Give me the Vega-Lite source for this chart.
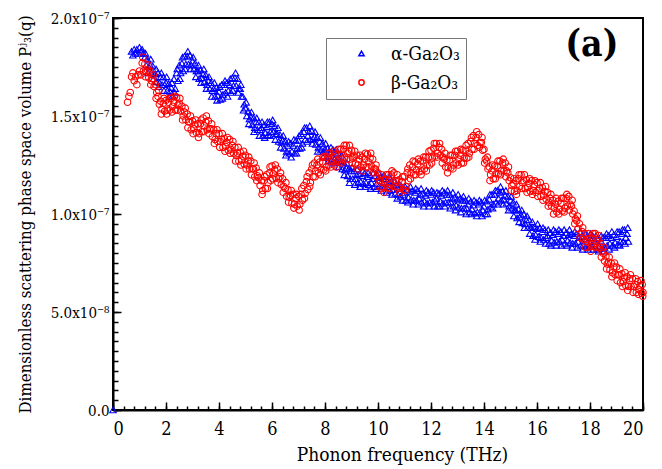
{
"$schema": "https://vega.github.io/schema/vega-lite/v6.json",
"width": 530, "height": 392,
"autosize": {"type": "none"},
"padding": {"left": 113, "top": 18, "right": 19, "bottom": 59},
"background": "white",
"config": {
 "font": "DejaVu Serif Condensed, DejaVu Serif",
 "view": {"stroke": "black", "strokeWidth": 2},
 "axis": {"labelFont": "DejaVu Serif Condensed, DejaVu Serif", "titleFont": "DejaVu Serif Condensed, DejaVu Serif", "labelColor": "black", "titleColor": "black", "grid": false, "titleFontWeight": "normal"},
 "legend": {"labelFont": "DejaVu Serif Condensed, DejaVu Serif"},
 "text": {"font": "DejaVu Serif Condensed, DejaVu Serif"}
},
"data": {"values": [
{"s":"α-Ga₂O₃","f":0,"P":0},
{"s":"α-Ga₂O₃","f":0.7,"P":1.83e-7},{"s":"α-Ga₂O₃","f":0.75,"P":1.81e-7},
{"s":"α-Ga₂O₃","f":0.8,"P":1.84e-7},{"s":"α-Ga₂O₃","f":0.85,"P":1.82e-7},
{"s":"α-Ga₂O₃","f":0.9,"P":1.84e-7},{"s":"α-Ga₂O₃","f":0.95,"P":1.82e-7},
{"s":"α-Ga₂O₃","f":1.0,"P":1.85e-7},{"s":"α-Ga₂O₃","f":1.05,"P":1.83e-7},
{"s":"α-Ga₂O₃","f":1.1,"P":1.84e-7},{"s":"α-Ga₂O₃","f":1.15,"P":1.82e-7},
{"s":"α-Ga₂O₃","f":1.2,"P":1.80e-7},{"s":"α-Ga₂O₃","f":1.25,"P":1.76e-7},
{"s":"α-Ga₂O₃","f":1.3,"P":1.79e-7},{"s":"α-Ga₂O₃","f":1.35,"P":1.75e-7},
{"s":"α-Ga₂O₃","f":1.4,"P":1.76e-7},{"s":"α-Ga₂O₃","f":1.45,"P":1.72e-7},
{"s":"α-Ga₂O₃","f":1.5,"P":1.755e-7},{"s":"α-Ga₂O₃","f":1.55,"P":1.715e-7},
{"s":"α-Ga₂O₃","f":1.6,"P":1.715e-7},{"s":"α-Ga₂O₃","f":1.65,"P":1.675e-7},
{"s":"α-Ga₂O₃","f":1.7,"P":1.72e-7},{"s":"α-Ga₂O₃","f":1.75,"P":1.67e-7},
{"s":"α-Ga₂O₃","f":1.8,"P":1.70e-7},{"s":"α-Ga₂O₃","f":1.85,"P":1.66e-7},
{"s":"α-Ga₂O₃","f":1.9,"P":1.70e-7},{"s":"α-Ga₂O₃","f":1.95,"P":1.66e-7},
{"s":"α-Ga₂O₃","f":2.0,"P":1.67e-7},{"s":"α-Ga₂O₃","f":2.05,"P":1.63e-7},
{"s":"α-Ga₂O₃","f":2.1,"P":1.665e-7},{"s":"α-Ga₂O₃","f":2.15,"P":1.625e-7},
{"s":"α-Ga₂O₃","f":2.2,"P":1.645e-7},{"s":"α-Ga₂O₃","f":2.25,"P":1.605e-7},
{"s":"α-Ga₂O₃","f":2.3,"P":1.69e-7},{"s":"α-Ga₂O₃","f":2.35,"P":1.64e-7},
{"s":"α-Ga₂O₃","f":2.4,"P":1.72e-7},{"s":"α-Ga₂O₃","f":2.45,"P":1.68e-7},
{"s":"α-Ga₂O₃","f":2.5,"P":1.76e-7},{"s":"α-Ga₂O₃","f":2.55,"P":1.72e-7},
{"s":"α-Ga₂O₃","f":2.6,"P":1.77e-7},{"s":"α-Ga₂O₃","f":2.65,"P":1.73e-7},
{"s":"α-Ga₂O₃","f":2.7,"P":1.805e-7},{"s":"α-Ga₂O₃","f":2.75,"P":1.765e-7},
{"s":"α-Ga₂O₃","f":2.8,"P":1.805e-7},{"s":"α-Ga₂O₃","f":2.85,"P":1.765e-7},
{"s":"α-Ga₂O₃","f":2.9,"P":1.81e-7},{"s":"α-Ga₂O₃","f":2.95,"P":1.76e-7},
{"s":"α-Ga₂O₃","f":3.0,"P":1.78e-7},{"s":"α-Ga₂O₃","f":3.05,"P":1.74e-7},
{"s":"α-Ga₂O₃","f":3.1,"P":1.77e-7},{"s":"α-Ga₂O₃","f":3.15,"P":1.73e-7},
{"s":"α-Ga₂O₃","f":3.2,"P":1.73e-7},{"s":"α-Ga₂O₃","f":3.25,"P":1.69e-7},
{"s":"α-Ga₂O₃","f":3.3,"P":1.735e-7},{"s":"α-Ga₂O₃","f":3.35,"P":1.695e-7},
{"s":"α-Ga₂O₃","f":3.4,"P":1.715e-7},{"s":"α-Ga₂O₃","f":3.45,"P":1.675e-7},
{"s":"α-Ga₂O₃","f":3.5,"P":1.71e-7},{"s":"α-Ga₂O₃","f":3.55,"P":1.66e-7},
{"s":"α-Ga₂O₃","f":3.6,"P":1.68e-7},{"s":"α-Ga₂O₃","f":3.65,"P":1.64e-7},
{"s":"α-Ga₂O₃","f":3.7,"P":1.67e-7},{"s":"α-Ga₂O₃","f":3.75,"P":1.63e-7},
{"s":"α-Ga₂O₃","f":3.8,"P":1.64e-7},{"s":"α-Ga₂O₃","f":3.85,"P":1.60e-7},
{"s":"α-Ga₂O₃","f":3.9,"P":1.645e-7},{"s":"α-Ga₂O₃","f":3.95,"P":1.605e-7},
{"s":"α-Ga₂O₃","f":4.0,"P":1.625e-7},{"s":"α-Ga₂O₃","f":4.05,"P":1.585e-7},
{"s":"α-Ga₂O₃","f":4.1,"P":1.66e-7},{"s":"α-Ga₂O₃","f":4.15,"P":1.61e-7},
{"s":"α-Ga₂O₃","f":4.2,"P":1.66e-7},{"s":"α-Ga₂O₃","f":4.25,"P":1.62e-7},
{"s":"α-Ga₂O₃","f":4.3,"P":1.67e-7},{"s":"α-Ga₂O₃","f":4.35,"P":1.63e-7},
{"s":"α-Ga₂O₃","f":4.4,"P":1.66e-7},{"s":"α-Ga₂O₃","f":4.45,"P":1.62e-7},
{"s":"α-Ga₂O₃","f":4.5,"P":1.695e-7},{"s":"α-Ga₂O₃","f":4.55,"P":1.655e-7},
{"s":"α-Ga₂O₃","f":4.6,"P":1.695e-7},{"s":"α-Ga₂O₃","f":4.65,"P":1.655e-7},
{"s":"α-Ga₂O₃","f":4.7,"P":1.69e-7},{"s":"α-Ga₂O₃","f":4.75,"P":1.64e-7},
{"s":"α-Ga₂O₃","f":4.8,"P":1.64e-7},{"s":"α-Ga₂O₃","f":4.85,"P":1.60e-7},
{"s":"α-Ga₂O₃","f":4.9,"P":1.60e-7},{"s":"α-Ga₂O₃","f":4.95,"P":1.56e-7},
{"s":"α-Ga₂O₃","f":5.0,"P":1.54e-7},{"s":"α-Ga₂O₃","f":5.05,"P":1.50e-7},
{"s":"α-Ga₂O₃","f":5.1,"P":1.525e-7},{"s":"α-Ga₂O₃","f":5.15,"P":1.485e-7},
{"s":"α-Ga₂O₃","f":5.2,"P":1.495e-7},{"s":"α-Ga₂O₃","f":5.25,"P":1.455e-7},
{"s":"α-Ga₂O₃","f":5.3,"P":1.49e-7},{"s":"α-Ga₂O₃","f":5.35,"P":1.44e-7},
{"s":"α-Ga₂O₃","f":5.4,"P":1.47e-7},{"s":"α-Ga₂O₃","f":5.45,"P":1.43e-7},
{"s":"α-Ga₂O₃","f":5.5,"P":1.47e-7},{"s":"α-Ga₂O₃","f":5.55,"P":1.43e-7},
{"s":"α-Ga₂O₃","f":5.6,"P":1.44e-7},{"s":"α-Ga₂O₃","f":5.65,"P":1.40e-7},
{"s":"α-Ga₂O₃","f":5.7,"P":1.455e-7},{"s":"α-Ga₂O₃","f":5.75,"P":1.415e-7},
{"s":"α-Ga₂O₃","f":5.8,"P":1.445e-7},{"s":"α-Ga₂O₃","f":5.85,"P":1.405e-7},
{"s":"α-Ga₂O₃","f":5.9,"P":1.47e-7},{"s":"α-Ga₂O₃","f":5.95,"P":1.42e-7},
{"s":"α-Ga₂O₃","f":6.0,"P":1.46e-7},{"s":"α-Ga₂O₃","f":6.05,"P":1.42e-7},
{"s":"α-Ga₂O₃","f":6.1,"P":1.45e-7},{"s":"α-Ga₂O₃","f":6.15,"P":1.41e-7},
{"s":"α-Ga₂O₃","f":6.2,"P":1.41e-7},{"s":"α-Ga₂O₃","f":6.25,"P":1.37e-7},
{"s":"α-Ga₂O₃","f":6.3,"P":1.405e-7},{"s":"α-Ga₂O₃","f":6.35,"P":1.365e-7},
{"s":"α-Ga₂O₃","f":6.4,"P":1.375e-7},{"s":"α-Ga₂O₃","f":6.45,"P":1.335e-7},
{"s":"α-Ga₂O₃","f":6.5,"P":1.37e-7},{"s":"α-Ga₂O₃","f":6.55,"P":1.32e-7},
{"s":"α-Ga₂O₃","f":6.6,"P":1.35e-7},{"s":"α-Ga₂O₃","f":6.65,"P":1.31e-7},
{"s":"α-Ga₂O₃","f":6.7,"P":1.36e-7},{"s":"α-Ga₂O₃","f":6.75,"P":1.32e-7},
{"s":"α-Ga₂O₃","f":6.8,"P":1.35e-7},{"s":"α-Ga₂O₃","f":6.85,"P":1.31e-7},
{"s":"α-Ga₂O₃","f":6.9,"P":1.375e-7},{"s":"α-Ga₂O₃","f":6.95,"P":1.335e-7},
{"s":"α-Ga₂O₃","f":7.0,"P":1.375e-7},{"s":"α-Ga₂O₃","f":7.05,"P":1.335e-7},
{"s":"α-Ga₂O₃","f":7.1,"P":1.41e-7},{"s":"α-Ga₂O₃","f":7.15,"P":1.36e-7},
{"s":"α-Ga₂O₃","f":7.2,"P":1.42e-7},{"s":"α-Ga₂O₃","f":7.25,"P":1.38e-7},
{"s":"α-Ga₂O₃","f":7.3,"P":1.44e-7},{"s":"α-Ga₂O₃","f":7.35,"P":1.40e-7},
{"s":"α-Ga₂O₃","f":7.4,"P":1.42e-7},{"s":"α-Ga₂O₃","f":7.45,"P":1.38e-7},
{"s":"α-Ga₂O₃","f":7.5,"P":1.425e-7},{"s":"α-Ga₂O₃","f":7.55,"P":1.385e-7},
{"s":"α-Ga₂O₃","f":7.6,"P":1.395e-7},{"s":"α-Ga₂O₃","f":7.65,"P":1.355e-7},
{"s":"α-Ga₂O₃","f":7.7,"P":1.39e-7},{"s":"α-Ga₂O₃","f":7.75,"P":1.34e-7},
{"s":"α-Ga₂O₃","f":7.8,"P":1.37e-7},{"s":"α-Ga₂O₃","f":7.85,"P":1.33e-7},
{"s":"α-Ga₂O₃","f":7.9,"P":1.36e-7},{"s":"α-Ga₂O₃","f":7.95,"P":1.32e-7},
{"s":"α-Ga₂O₃","f":8.0,"P":1.33e-7},{"s":"α-Ga₂O₃","f":8.05,"P":1.29e-7},
{"s":"α-Ga₂O₃","f":8.1,"P":1.335e-7},{"s":"α-Ga₂O₃","f":8.15,"P":1.295e-7},
{"s":"α-Ga₂O₃","f":8.2,"P":1.315e-7},{"s":"α-Ga₂O₃","f":8.25,"P":1.275e-7},
{"s":"α-Ga₂O₃","f":8.3,"P":1.33e-7},{"s":"α-Ga₂O₃","f":8.35,"P":1.28e-7},
{"s":"α-Ga₂O₃","f":8.4,"P":1.31e-7},{"s":"α-Ga₂O₃","f":8.45,"P":1.27e-7},
{"s":"α-Ga₂O₃","f":8.5,"P":1.31e-7},{"s":"α-Ga₂O₃","f":8.55,"P":1.27e-7},
{"s":"α-Ga₂O₃","f":8.6,"P":1.27e-7},{"s":"α-Ga₂O₃","f":8.65,"P":1.23e-7},
{"s":"α-Ga₂O₃","f":8.7,"P":1.265e-7},{"s":"α-Ga₂O₃","f":8.75,"P":1.225e-7},
{"s":"α-Ga₂O₃","f":8.8,"P":1.235e-7},{"s":"α-Ga₂O₃","f":8.85,"P":1.195e-7},
{"s":"α-Ga₂O₃","f":8.9,"P":1.23e-7},{"s":"α-Ga₂O₃","f":8.95,"P":1.18e-7},
{"s":"α-Ga₂O₃","f":9.0,"P":1.22e-7},{"s":"α-Ga₂O₃","f":9.05,"P":1.18e-7},
{"s":"α-Ga₂O₃","f":9.1,"P":1.22e-7},{"s":"α-Ga₂O₃","f":9.15,"P":1.18e-7},
{"s":"α-Ga₂O₃","f":9.2,"P":1.20e-7},{"s":"α-Ga₂O₃","f":9.25,"P":1.16e-7},
{"s":"α-Ga₂O₃","f":9.3,"P":1.205e-7},{"s":"α-Ga₂O₃","f":9.35,"P":1.165e-7},
{"s":"α-Ga₂O₃","f":9.4,"P":1.195e-7},{"s":"α-Ga₂O₃","f":9.45,"P":1.155e-7},
{"s":"α-Ga₂O₃","f":9.5,"P":1.21e-7},{"s":"α-Ga₂O₃","f":9.55,"P":1.16e-7},
{"s":"α-Ga₂O₃","f":9.6,"P":1.19e-7},{"s":"α-Ga₂O₃","f":9.65,"P":1.15e-7},
{"s":"α-Ga₂O₃","f":9.7,"P":1.20e-7},{"s":"α-Ga₂O₃","f":9.75,"P":1.16e-7},
{"s":"α-Ga₂O₃","f":9.8,"P":1.18e-7},{"s":"α-Ga₂O₃","f":9.85,"P":1.14e-7},
{"s":"α-Ga₂O₃","f":9.9,"P":1.195e-7},{"s":"α-Ga₂O₃","f":9.95,"P":1.155e-7},
{"s":"α-Ga₂O₃","f":10.0,"P":1.185e-7},{"s":"α-Ga₂O₃","f":10.05,"P":1.145e-7},
{"s":"α-Ga₂O₃","f":10.1,"P":1.19e-7},{"s":"α-Ga₂O₃","f":10.15,"P":1.14e-7},
{"s":"α-Ga₂O₃","f":10.2,"P":1.18e-7},{"s":"α-Ga₂O₃","f":10.25,"P":1.14e-7},
{"s":"α-Ga₂O₃","f":10.3,"P":1.18e-7},{"s":"α-Ga₂O₃","f":10.35,"P":1.14e-7},
{"s":"α-Ga₂O₃","f":10.4,"P":1.16e-7},{"s":"α-Ga₂O₃","f":10.45,"P":1.12e-7},
{"s":"α-Ga₂O₃","f":10.5,"P":1.165e-7},{"s":"α-Ga₂O₃","f":10.55,"P":1.125e-7},
{"s":"α-Ga₂O₃","f":10.6,"P":1.145e-7},{"s":"α-Ga₂O₃","f":10.65,"P":1.105e-7},
{"s":"α-Ga₂O₃","f":10.7,"P":1.15e-7},{"s":"α-Ga₂O₃","f":10.75,"P":1.10e-7},
{"s":"α-Ga₂O₃","f":10.8,"P":1.13e-7},{"s":"α-Ga₂O₃","f":10.85,"P":1.09e-7},
{"s":"α-Ga₂O₃","f":10.9,"P":1.14e-7},{"s":"α-Ga₂O₃","f":10.95,"P":1.10e-7},
{"s":"α-Ga₂O₃","f":11.0,"P":1.11e-7},{"s":"α-Ga₂O₃","f":11.05,"P":1.07e-7},
{"s":"α-Ga₂O₃","f":11.1,"P":1.125e-7},{"s":"α-Ga₂O₃","f":11.15,"P":1.085e-7},
{"s":"α-Ga₂O₃","f":11.2,"P":1.115e-7},{"s":"α-Ga₂O₃","f":11.25,"P":1.075e-7},
{"s":"α-Ga₂O₃","f":11.3,"P":1.12e-7},{"s":"α-Ga₂O₃","f":11.35,"P":1.07e-7},
{"s":"α-Ga₂O₃","f":11.4,"P":1.11e-7},{"s":"α-Ga₂O₃","f":11.45,"P":1.07e-7},
{"s":"α-Ga₂O₃","f":11.5,"P":1.12e-7},{"s":"α-Ga₂O₃","f":11.55,"P":1.08e-7},
{"s":"α-Ga₂O₃","f":11.6,"P":1.10e-7},{"s":"α-Ga₂O₃","f":11.65,"P":1.06e-7},
{"s":"α-Ga₂O₃","f":11.7,"P":1.105e-7},{"s":"α-Ga₂O₃","f":11.75,"P":1.065e-7},
{"s":"α-Ga₂O₃","f":11.8,"P":1.095e-7},{"s":"α-Ga₂O₃","f":11.85,"P":1.055e-7},
{"s":"α-Ga₂O₃","f":11.9,"P":1.11e-7},{"s":"α-Ga₂O₃","f":11.95,"P":1.06e-7},
{"s":"α-Ga₂O₃","f":12.0,"P":1.10e-7},{"s":"α-Ga₂O₃","f":12.05,"P":1.06e-7},
{"s":"α-Ga₂O₃","f":12.1,"P":1.11e-7},{"s":"α-Ga₂O₃","f":12.15,"P":1.07e-7},
{"s":"α-Ga₂O₃","f":12.2,"P":1.08e-7},{"s":"α-Ga₂O₃","f":12.25,"P":1.04e-7},
{"s":"α-Ga₂O₃","f":12.3,"P":1.105e-7},{"s":"α-Ga₂O₃","f":12.35,"P":1.065e-7},
{"s":"α-Ga₂O₃","f":12.4,"P":1.095e-7},{"s":"α-Ga₂O₃","f":12.45,"P":1.055e-7},
{"s":"α-Ga₂O₃","f":12.5,"P":1.11e-7},{"s":"α-Ga₂O₃","f":12.55,"P":1.06e-7},
{"s":"α-Ga₂O₃","f":12.6,"P":1.10e-7},{"s":"α-Ga₂O₃","f":12.65,"P":1.06e-7},
{"s":"α-Ga₂O₃","f":12.7,"P":1.10e-7},{"s":"α-Ga₂O₃","f":12.75,"P":1.06e-7},
{"s":"α-Ga₂O₃","f":12.8,"P":1.08e-7},{"s":"α-Ga₂O₃","f":12.85,"P":1.04e-7},
{"s":"α-Ga₂O₃","f":12.9,"P":1.085e-7},{"s":"α-Ga₂O₃","f":12.95,"P":1.045e-7},
{"s":"α-Ga₂O₃","f":13.0,"P":1.075e-7},{"s":"α-Ga₂O₃","f":13.05,"P":1.035e-7},
{"s":"α-Ga₂O₃","f":13.1,"P":1.08e-7},{"s":"α-Ga₂O₃","f":13.15,"P":1.03e-7},
{"s":"α-Ga₂O₃","f":13.2,"P":1.07e-7},{"s":"α-Ga₂O₃","f":13.25,"P":1.03e-7},
{"s":"α-Ga₂O₃","f":13.3,"P":1.07e-7},{"s":"α-Ga₂O₃","f":13.35,"P":1.03e-7},
{"s":"α-Ga₂O₃","f":13.4,"P":1.05e-7},{"s":"α-Ga₂O₃","f":13.45,"P":1.01e-7},
{"s":"α-Ga₂O₃","f":13.5,"P":1.065e-7},{"s":"α-Ga₂O₃","f":13.55,"P":1.025e-7},
{"s":"α-Ga₂O₃","f":13.6,"P":1.045e-7},{"s":"α-Ga₂O₃","f":13.65,"P":1.005e-7},
{"s":"α-Ga₂O₃","f":13.7,"P":1.06e-7},{"s":"α-Ga₂O₃","f":13.75,"P":1.01e-7},
{"s":"α-Ga₂O₃","f":13.8,"P":1.05e-7},{"s":"α-Ga₂O₃","f":13.85,"P":1.01e-7},
{"s":"α-Ga₂O₃","f":13.9,"P":1.06e-7},{"s":"α-Ga₂O₃","f":13.95,"P":1.02e-7},
{"s":"α-Ga₂O₃","f":14.0,"P":1.04e-7},{"s":"α-Ga₂O₃","f":14.05,"P":1.00e-7},
{"s":"α-Ga₂O₃","f":14.1,"P":1.065e-7},{"s":"α-Ga₂O₃","f":14.15,"P":1.025e-7},
{"s":"α-Ga₂O₃","f":14.2,"P":1.075e-7},{"s":"α-Ga₂O₃","f":14.25,"P":1.035e-7},
{"s":"α-Ga₂O₃","f":14.3,"P":1.10e-7},{"s":"α-Ga₂O₃","f":14.35,"P":1.05e-7},
{"s":"α-Ga₂O₃","f":14.4,"P":1.10e-7},{"s":"α-Ga₂O₃","f":14.45,"P":1.06e-7},
{"s":"α-Ga₂O₃","f":14.5,"P":1.12e-7},{"s":"α-Ga₂O₃","f":14.55,"P":1.08e-7},
{"s":"α-Ga₂O₃","f":14.6,"P":1.11e-7},{"s":"α-Ga₂O₃","f":14.65,"P":1.07e-7},
{"s":"α-Ga₂O₃","f":14.7,"P":1.115e-7},{"s":"α-Ga₂O₃","f":14.75,"P":1.075e-7},
{"s":"α-Ga₂O₃","f":14.8,"P":1.095e-7},{"s":"α-Ga₂O₃","f":14.85,"P":1.055e-7},
{"s":"α-Ga₂O₃","f":14.9,"P":1.09e-7},{"s":"α-Ga₂O₃","f":14.95,"P":1.04e-7},
{"s":"α-Ga₂O₃","f":15.0,"P":1.07e-7},{"s":"α-Ga₂O₃","f":15.05,"P":1.03e-7},
{"s":"α-Ga₂O₃","f":15.1,"P":1.06e-7},{"s":"α-Ga₂O₃","f":15.15,"P":1.02e-7},
{"s":"α-Ga₂O₃","f":15.2,"P":1.02e-7},{"s":"α-Ga₂O₃","f":15.25,"P":0.98e-7},
{"s":"α-Ga₂O₃","f":15.3,"P":1.025e-7},{"s":"α-Ga₂O₃","f":15.35,"P":0.985e-7},
{"s":"α-Ga₂O₃","f":15.4,"P":0.995e-7},{"s":"α-Ga₂O₃","f":15.45,"P":0.955e-7},
{"s":"α-Ga₂O₃","f":15.5,"P":1.00e-7},{"s":"α-Ga₂O₃","f":15.55,"P":0.95e-7},
{"s":"α-Ga₂O₃","f":15.6,"P":0.97e-7},{"s":"α-Ga₂O₃","f":15.65,"P":0.93e-7},
{"s":"α-Ga₂O₃","f":15.7,"P":0.97e-7},{"s":"α-Ga₂O₃","f":15.75,"P":0.93e-7},
{"s":"α-Ga₂O₃","f":15.8,"P":0.93e-7},{"s":"α-Ga₂O₃","f":15.85,"P":0.89e-7},
{"s":"α-Ga₂O₃","f":15.9,"P":0.935e-7},{"s":"α-Ga₂O₃","f":15.95,"P":0.895e-7},
{"s":"α-Ga₂O₃","f":16.0,"P":0.925e-7},{"s":"α-Ga₂O₃","f":16.05,"P":0.885e-7},
{"s":"α-Ga₂O₃","f":16.1,"P":0.93e-7},{"s":"α-Ga₂O₃","f":16.15,"P":0.88e-7},
{"s":"α-Ga₂O₃","f":16.2,"P":0.91e-7},{"s":"α-Ga₂O₃","f":16.25,"P":0.87e-7},
{"s":"α-Ga₂O₃","f":16.3,"P":0.92e-7},{"s":"α-Ga₂O₃","f":16.35,"P":0.88e-7},
{"s":"α-Ga₂O₃","f":16.4,"P":0.89e-7},{"s":"α-Ga₂O₃","f":16.45,"P":0.85e-7},
{"s":"α-Ga₂O₃","f":16.5,"P":0.905e-7},{"s":"α-Ga₂O₃","f":16.55,"P":0.865e-7},
{"s":"α-Ga₂O₃","f":16.6,"P":0.895e-7},{"s":"α-Ga₂O₃","f":16.65,"P":0.855e-7},
{"s":"α-Ga₂O₃","f":16.7,"P":0.91e-7},{"s":"α-Ga₂O₃","f":16.75,"P":0.86e-7},
{"s":"α-Ga₂O₃","f":16.8,"P":0.90e-7},{"s":"α-Ga₂O₃","f":16.85,"P":0.86e-7},
{"s":"α-Ga₂O₃","f":16.9,"P":0.91e-7},{"s":"α-Ga₂O₃","f":16.95,"P":0.87e-7},
{"s":"α-Ga₂O₃","f":17.0,"P":0.89e-7},{"s":"α-Ga₂O₃","f":17.05,"P":0.85e-7},
{"s":"α-Ga₂O₃","f":17.1,"P":0.905e-7},{"s":"α-Ga₂O₃","f":17.15,"P":0.865e-7},
{"s":"α-Ga₂O₃","f":17.2,"P":0.895e-7},{"s":"α-Ga₂O₃","f":17.25,"P":0.855e-7},
{"s":"α-Ga₂O₃","f":17.3,"P":0.90e-7},{"s":"α-Ga₂O₃","f":17.35,"P":0.85e-7},
{"s":"α-Ga₂O₃","f":17.4,"P":0.89e-7},{"s":"α-Ga₂O₃","f":17.45,"P":0.85e-7},
{"s":"α-Ga₂O₃","f":17.5,"P":0.90e-7},{"s":"α-Ga₂O₃","f":17.55,"P":0.86e-7},
{"s":"α-Ga₂O₃","f":17.6,"P":0.88e-7},{"s":"α-Ga₂O₃","f":17.65,"P":0.84e-7},
{"s":"α-Ga₂O₃","f":17.7,"P":0.885e-7},{"s":"α-Ga₂O₃","f":17.75,"P":0.845e-7},
{"s":"α-Ga₂O₃","f":17.8,"P":0.875e-7},{"s":"α-Ga₂O₃","f":17.85,"P":0.835e-7},
{"s":"α-Ga₂O₃","f":17.9,"P":0.89e-7},{"s":"α-Ga₂O₃","f":17.95,"P":0.84e-7},
{"s":"α-Ga₂O₃","f":18.0,"P":0.88e-7},{"s":"α-Ga₂O₃","f":18.05,"P":0.84e-7},
{"s":"α-Ga₂O₃","f":18.1,"P":0.89e-7},{"s":"α-Ga₂O₃","f":18.15,"P":0.85e-7},
{"s":"α-Ga₂O₃","f":18.2,"P":0.86e-7},{"s":"α-Ga₂O₃","f":18.25,"P":0.82e-7},
{"s":"α-Ga₂O₃","f":18.3,"P":0.875e-7},{"s":"α-Ga₂O₃","f":18.35,"P":0.835e-7},
{"s":"α-Ga₂O₃","f":18.4,"P":0.865e-7},{"s":"α-Ga₂O₃","f":18.45,"P":0.825e-7},
{"s":"α-Ga₂O₃","f":18.5,"P":0.88e-7},{"s":"α-Ga₂O₃","f":18.55,"P":0.83e-7},
{"s":"α-Ga₂O₃","f":18.6,"P":0.88e-7},{"s":"α-Ga₂O₃","f":18.65,"P":0.84e-7},
{"s":"α-Ga₂O₃","f":18.7,"P":0.89e-7},{"s":"α-Ga₂O₃","f":18.75,"P":0.85e-7},
{"s":"α-Ga₂O₃","f":18.8,"P":0.88e-7},{"s":"α-Ga₂O₃","f":18.85,"P":0.84e-7},
{"s":"α-Ga₂O₃","f":18.9,"P":0.895e-7},{"s":"α-Ga₂O₃","f":18.95,"P":0.855e-7},
{"s":"α-Ga₂O₃","f":19.0,"P":0.885e-7},{"s":"α-Ga₂O₃","f":19.05,"P":0.845e-7},
{"s":"α-Ga₂O₃","f":19.1,"P":0.91e-7},{"s":"α-Ga₂O₃","f":19.15,"P":0.86e-7},
{"s":"α-Ga₂O₃","f":19.2,"P":0.90e-7},{"s":"α-Ga₂O₃","f":19.25,"P":0.86e-7},
{"s":"α-Ga₂O₃","f":19.3,"P":0.92e-7},{"s":"α-Ga₂O₃","f":19.35,"P":0.88e-7},
{"s":"α-Ga₂O₃","f":19.4,"P":0.90e-7},{"s":"α-Ga₂O₃","f":19.45,"P":0.86e-7},
{"s":"α-Ga₂O₃","f":1.225,"P":1.82e-7},{"s":"α-Ga₂O₃","f":1.325,"P":1.72e-7},{"s":"α-Ga₂O₃","f":1.425,"P":1.79e-7},{"s":"α-Ga₂O₃","f":1.525,"P":1.69e-7},
{"s":"α-Ga₂O₃","f":1.625,"P":1.74e-7},{"s":"α-Ga₂O₃","f":1.725,"P":1.65e-7},{"s":"α-Ga₂O₃","f":1.825,"P":1.72e-7},{"s":"α-Ga₂O₃","f":1.925,"P":1.63e-7},
{"s":"α-Ga₂O₃","f":2.025,"P":1.70e-7},{"s":"α-Ga₂O₃","f":2.125,"P":1.60e-7},{"s":"α-Ga₂O₃","f":2.225,"P":1.67e-7},{"s":"α-Ga₂O₃","f":2.325,"P":1.62e-7},
{"s":"α-Ga₂O₃","f":2.425,"P":1.74e-7},{"s":"α-Ga₂O₃","f":2.525,"P":1.69e-7},{"s":"α-Ga₂O₃","f":2.625,"P":1.80e-7},{"s":"α-Ga₂O₃","f":2.725,"P":1.74e-7},
{"s":"α-Ga₂O₃","f":2.825,"P":1.83e-7},{"s":"α-Ga₂O₃","f":2.925,"P":1.74e-7},{"s":"α-Ga₂O₃","f":3.025,"P":1.80e-7},{"s":"α-Ga₂O₃","f":3.125,"P":1.70e-7},
{"s":"α-Ga₂O₃","f":3.225,"P":1.76e-7},{"s":"α-Ga₂O₃","f":3.325,"P":1.67e-7},{"s":"α-Ga₂O₃","f":3.425,"P":1.74e-7},{"s":"α-Ga₂O₃","f":3.525,"P":1.64e-7},
{"s":"α-Ga₂O₃","f":3.625,"P":1.70e-7},{"s":"α-Ga₂O₃","f":3.725,"P":1.60e-7},{"s":"α-Ga₂O₃","f":3.825,"P":1.67e-7},{"s":"α-Ga₂O₃","f":3.925,"P":1.58e-7},
{"s":"α-Ga₂O₃","f":4.025,"P":1.65e-7},{"s":"α-Ga₂O₃","f":4.125,"P":1.59e-7},{"s":"α-Ga₂O₃","f":4.225,"P":1.68e-7},{"s":"α-Ga₂O₃","f":4.325,"P":1.60e-7},
{"s":"α-Ga₂O₃","f":4.425,"P":1.69e-7},{"s":"α-Ga₂O₃","f":4.525,"P":1.63e-7},{"s":"α-Ga₂O₃","f":4.625,"P":1.72e-7},{"s":"α-Ga₂O₃","f":4.725,"P":1.62e-7},
{"s":"α-Ga₂O₃","f":4.825,"P":1.66e-7},{"s":"α-Ga₂O₃","f":4.925,"P":1.53e-7},{"s":"α-Ga₂O₃","f":5.025,"P":1.57e-7},{"s":"α-Ga₂O₃","f":5.125,"P":1.46e-7},
{"s":"α-Ga₂O₃","f":5.225,"P":1.52e-7},{"s":"α-Ga₂O₃","f":5.325,"P":1.42e-7},{"s":"α-Ga₂O₃","f":5.425,"P":1.49e-7},{"s":"α-Ga₂O₃","f":5.525,"P":1.40e-7},
{"s":"α-Ga₂O₃","f":5.625,"P":1.47e-7},{"s":"α-Ga₂O₃","f":5.725,"P":1.39e-7},{"s":"α-Ga₂O₃","f":5.825,"P":1.47e-7},{"s":"α-Ga₂O₃","f":5.925,"P":1.40e-7},
{"s":"α-Ga₂O₃","f":6.025,"P":1.48e-7},{"s":"α-Ga₂O₃","f":6.125,"P":1.38e-7},{"s":"α-Ga₂O₃","f":6.225,"P":1.44e-7},{"s":"α-Ga₂O₃","f":6.325,"P":1.34e-7},
{"s":"α-Ga₂O₃","f":6.425,"P":1.40e-7},{"s":"α-Ga₂O₃","f":6.525,"P":1.30e-7},{"s":"α-Ga₂O₃","f":6.625,"P":1.37e-7},{"s":"α-Ga₂O₃","f":6.725,"P":1.29e-7},
{"s":"α-Ga₂O₃","f":6.825,"P":1.38e-7},{"s":"α-Ga₂O₃","f":6.925,"P":1.31e-7},{"s":"α-Ga₂O₃","f":7.025,"P":1.40e-7},{"s":"α-Ga₂O₃","f":7.125,"P":1.34e-7},
{"s":"α-Ga₂O₃","f":7.225,"P":1.44e-7},{"s":"α-Ga₂O₃","f":7.325,"P":1.37e-7},{"s":"α-Ga₂O₃","f":7.425,"P":1.45e-7},{"s":"α-Ga₂O₃","f":7.525,"P":1.36e-7},
{"s":"α-Ga₂O₃","f":7.625,"P":1.42e-7},{"s":"α-Ga₂O₃","f":7.725,"P":1.32e-7},{"s":"α-Ga₂O₃","f":7.825,"P":1.39e-7},{"s":"α-Ga₂O₃","f":7.925,"P":1.29e-7},
{"s":"α-Ga₂O₃","f":8.025,"P":1.36e-7},{"s":"α-Ga₂O₃","f":8.125,"P":1.27e-7},{"s":"α-Ga₂O₃","f":8.225,"P":1.34e-7},{"s":"α-Ga₂O₃","f":8.325,"P":1.26e-7},
{"s":"α-Ga₂O₃","f":8.425,"P":1.33e-7},{"s":"α-Ga₂O₃","f":8.525,"P":1.24e-7},{"s":"α-Ga₂O₃","f":8.625,"P":1.30e-7},{"s":"α-Ga₂O₃","f":8.725,"P":1.20e-7},
{"s":"α-Ga₂O₃","f":8.825,"P":1.26e-7},{"s":"α-Ga₂O₃","f":8.925,"P":1.16e-7},{"s":"α-Ga₂O₃","f":9.025,"P":1.24e-7},{"s":"α-Ga₂O₃","f":9.125,"P":1.15e-7},
{"s":"α-Ga₂O₃","f":9.225,"P":1.23e-7},{"s":"α-Ga₂O₃","f":9.325,"P":1.14e-7},{"s":"α-Ga₂O₃","f":9.425,"P":1.22e-7},{"s":"α-Ga₂O₃","f":9.525,"P":1.14e-7},
{"s":"α-Ga₂O₃","f":9.625,"P":1.21e-7},{"s":"α-Ga₂O₃","f":9.725,"P":1.13e-7},{"s":"α-Ga₂O₃","f":9.825,"P":1.21e-7},{"s":"α-Ga₂O₃","f":9.925,"P":1.13e-7},
{"s":"α-Ga₂O₃","f":10.025,"P":1.21e-7},{"s":"α-Ga₂O₃","f":10.125,"P":1.12e-7},{"s":"α-Ga₂O₃","f":10.225,"P":1.20e-7},{"s":"α-Ga₂O₃","f":10.325,"P":1.11e-7},
{"s":"α-Ga₂O₃","f":10.425,"P":1.19e-7},{"s":"α-Ga₂O₃","f":10.525,"P":1.10e-7},{"s":"α-Ga₂O₃","f":10.625,"P":1.17e-7},{"s":"α-Ga₂O₃","f":10.725,"P":1.08e-7},
{"s":"α-Ga₂O₃","f":10.825,"P":1.15e-7},{"s":"α-Ga₂O₃","f":10.925,"P":1.07e-7},{"s":"α-Ga₂O₃","f":11.025,"P":1.14e-7},{"s":"α-Ga₂O₃","f":11.125,"P":1.06e-7},
{"s":"α-Ga₂O₃","f":11.225,"P":1.14e-7},{"s":"α-Ga₂O₃","f":11.325,"P":1.05e-7},{"s":"α-Ga₂O₃","f":11.425,"P":1.13e-7},{"s":"α-Ga₂O₃","f":11.525,"P":1.05e-7},
{"s":"α-Ga₂O₃","f":11.625,"P":1.13e-7},{"s":"α-Ga₂O₃","f":11.725,"P":1.04e-7},{"s":"α-Ga₂O₃","f":11.825,"P":1.12e-7},{"s":"α-Ga₂O₃","f":11.925,"P":1.04e-7},
{"s":"α-Ga₂O₃","f":12.025,"P":1.12e-7},{"s":"α-Ga₂O₃","f":12.125,"P":1.04e-7},{"s":"α-Ga₂O₃","f":12.225,"P":1.11e-7},{"s":"α-Ga₂O₃","f":12.325,"P":1.04e-7},
{"s":"α-Ga₂O₃","f":12.425,"P":1.12e-7},{"s":"α-Ga₂O₃","f":12.525,"P":1.04e-7},{"s":"α-Ga₂O₃","f":12.625,"P":1.12e-7},{"s":"α-Ga₂O₃","f":12.725,"P":1.03e-7},
{"s":"α-Ga₂O₃","f":12.825,"P":1.11e-7},{"s":"α-Ga₂O₃","f":12.925,"P":1.02e-7},{"s":"α-Ga₂O₃","f":13.025,"P":1.10e-7},{"s":"α-Ga₂O₃","f":13.125,"P":1.01e-7},
{"s":"α-Ga₂O₃","f":13.225,"P":1.09e-7},{"s":"α-Ga₂O₃","f":13.325,"P":1.00e-7},{"s":"α-Ga₂O₃","f":13.425,"P":1.08e-7},{"s":"α-Ga₂O₃","f":13.525,"P":1.00e-7},
{"s":"α-Ga₂O₃","f":13.625,"P":1.07e-7},{"s":"α-Ga₂O₃","f":13.725,"P":0.99e-7},{"s":"α-Ga₂O₃","f":13.825,"P":1.07e-7},{"s":"α-Ga₂O₃","f":13.925,"P":0.99e-7},
{"s":"α-Ga₂O₃","f":14.025,"P":1.07e-7},{"s":"α-Ga₂O₃","f":14.125,"P":1.00e-7},{"s":"α-Ga₂O₃","f":14.225,"P":1.10e-7},{"s":"α-Ga₂O₃","f":14.325,"P":1.03e-7},
{"s":"α-Ga₂O₃","f":14.425,"P":1.12e-7},{"s":"α-Ga₂O₃","f":14.525,"P":1.05e-7},{"s":"α-Ga₂O₃","f":14.625,"P":1.14e-7},{"s":"α-Ga₂O₃","f":14.725,"P":1.05e-7},
{"s":"α-Ga₂O₃","f":14.825,"P":1.12e-7},{"s":"α-Ga₂O₃","f":14.925,"P":1.02e-7},{"s":"α-Ga₂O₃","f":15.025,"P":1.09e-7},{"s":"α-Ga₂O₃","f":15.125,"P":0.99e-7},
{"s":"α-Ga₂O₃","f":15.225,"P":1.05e-7},{"s":"α-Ga₂O₃","f":15.325,"P":0.96e-7},{"s":"α-Ga₂O₃","f":15.425,"P":1.02e-7},{"s":"α-Ga₂O₃","f":15.525,"P":0.93e-7},
{"s":"α-Ga₂O₃","f":15.625,"P":0.99e-7},{"s":"α-Ga₂O₃","f":15.725,"P":0.90e-7},{"s":"α-Ga₂O₃","f":15.825,"P":0.96e-7},{"s":"α-Ga₂O₃","f":15.925,"P":0.87e-7},
{"s":"α-Ga₂O₃","f":16.025,"P":0.95e-7},{"s":"α-Ga₂O₃","f":16.125,"P":0.86e-7},{"s":"α-Ga₂O₃","f":16.225,"P":0.93e-7},{"s":"α-Ga₂O₃","f":16.325,"P":0.85e-7},
{"s":"α-Ga₂O₃","f":16.425,"P":0.92e-7},{"s":"α-Ga₂O₃","f":16.525,"P":0.84e-7},{"s":"α-Ga₂O₃","f":16.625,"P":0.92e-7},{"s":"α-Ga₂O₃","f":16.725,"P":0.84e-7},
{"s":"α-Ga₂O₃","f":16.825,"P":0.92e-7},{"s":"α-Ga₂O₃","f":16.925,"P":0.84e-7},{"s":"α-Ga₂O₃","f":17.025,"P":0.92e-7},{"s":"α-Ga₂O₃","f":17.125,"P":0.84e-7},
{"s":"α-Ga₂O₃","f":17.225,"P":0.92e-7},{"s":"α-Ga₂O₃","f":17.325,"P":0.83e-7},{"s":"α-Ga₂O₃","f":17.425,"P":0.91e-7},{"s":"α-Ga₂O₃","f":17.525,"P":0.83e-7},
{"s":"α-Ga₂O₃","f":17.625,"P":0.91e-7},{"s":"α-Ga₂O₃","f":17.725,"P":0.82e-7},{"s":"α-Ga₂O₃","f":17.825,"P":0.90e-7},{"s":"α-Ga₂O₃","f":17.925,"P":0.82e-7},
{"s":"α-Ga₂O₃","f":18.025,"P":0.90e-7},{"s":"α-Ga₂O₃","f":18.125,"P":0.82e-7},{"s":"α-Ga₂O₃","f":18.225,"P":0.89e-7},{"s":"α-Ga₂O₃","f":18.325,"P":0.81e-7},
{"s":"α-Ga₂O₃","f":18.425,"P":0.89e-7},{"s":"α-Ga₂O₃","f":18.525,"P":0.81e-7},{"s":"α-Ga₂O₃","f":18.625,"P":0.90e-7},{"s":"α-Ga₂O₃","f":18.725,"P":0.82e-7},
{"s":"α-Ga₂O₃","f":18.825,"P":0.91e-7},{"s":"α-Ga₂O₃","f":18.925,"P":0.83e-7},{"s":"α-Ga₂O₃","f":19.025,"P":0.91e-7},{"s":"α-Ga₂O₃","f":19.125,"P":0.84e-7},
{"s":"α-Ga₂O₃","f":19.225,"P":0.92e-7},{"s":"α-Ga₂O₃","f":19.325,"P":0.85e-7},{"s":"α-Ga₂O₃","f":19.425,"P":0.93e-7},
{"s":"β-Ga₂O₃","f":0.55,"P":1.57e-7},{"s":"β-Ga₂O₃","f":0.6,"P":1.60e-7},
{"s":"β-Ga₂O₃","f":0.65,"P":1.62e-7},{"s":"β-Ga₂O₃","f":0.7,"P":1.70e-7},
{"s":"β-Ga₂O₃","f":0.75,"P":1.72e-7},{"s":"β-Ga₂O₃","f":0.8,"P":1.68e-7},
{"s":"β-Ga₂O₃","f":0.85,"P":1.70e-7},{"s":"β-Ga₂O₃","f":0.9,"P":1.66e-7},
{"s":"β-Ga₂O₃","f":0.95,"P":1.71e-7},{"s":"β-Ga₂O₃","f":1.0,"P":1.73e-7},
{"s":"β-Ga₂O₃","f":1.05,"P":1.71e-7},
{"s":"β-Ga₂O₃","f":1.1,"P":1.77e-7},{"s":"β-Ga₂O₃","f":1.15,"P":1.73e-7},
{"s":"β-Ga₂O₃","f":1.2,"P":1.765e-7},{"s":"β-Ga₂O₃","f":1.25,"P":1.725e-7},
{"s":"β-Ga₂O₃","f":1.3,"P":1.735e-7},{"s":"β-Ga₂O₃","f":1.35,"P":1.695e-7},
{"s":"β-Ga₂O₃","f":1.4,"P":1.73e-7},{"s":"β-Ga₂O₃","f":1.45,"P":1.68e-7},
{"s":"β-Ga₂O₃","f":1.5,"P":1.69e-7},{"s":"β-Ga₂O₃","f":1.55,"P":1.65e-7},
{"s":"β-Ga₂O₃","f":1.6,"P":1.66e-7},{"s":"β-Ga₂O₃","f":1.65,"P":1.62e-7},
{"s":"β-Ga₂O₃","f":1.7,"P":1.60e-7},{"s":"β-Ga₂O₃","f":1.75,"P":1.56e-7},
{"s":"β-Ga₂O₃","f":1.8,"P":1.575e-7},{"s":"β-Ga₂O₃","f":1.85,"P":1.535e-7},
{"s":"β-Ga₂O₃","f":1.9,"P":1.565e-7},{"s":"β-Ga₂O₃","f":1.95,"P":1.525e-7},
{"s":"β-Ga₂O₃","f":2.0,"P":1.58e-7},{"s":"β-Ga₂O₃","f":2.05,"P":1.53e-7},
{"s":"β-Ga₂O₃","f":2.1,"P":1.57e-7},{"s":"β-Ga₂O₃","f":2.15,"P":1.53e-7},
{"s":"β-Ga₂O₃","f":2.2,"P":1.59e-7},{"s":"β-Ga₂O₃","f":2.25,"P":1.55e-7},
{"s":"β-Ga₂O₃","f":2.3,"P":1.57e-7},{"s":"β-Ga₂O₃","f":2.35,"P":1.53e-7},
{"s":"β-Ga₂O₃","f":2.4,"P":1.595e-7},{"s":"β-Ga₂O₃","f":2.45,"P":1.555e-7},
{"s":"β-Ga₂O₃","f":2.5,"P":1.565e-7},{"s":"β-Ga₂O₃","f":2.55,"P":1.525e-7},
{"s":"β-Ga₂O₃","f":2.6,"P":1.55e-7},{"s":"β-Ga₂O₃","f":2.65,"P":1.50e-7},
{"s":"β-Ga₂O₃","f":2.7,"P":1.52e-7},{"s":"β-Ga₂O₃","f":2.75,"P":1.48e-7},
{"s":"β-Ga₂O₃","f":2.8,"P":1.51e-7},{"s":"β-Ga₂O₃","f":2.85,"P":1.47e-7},
{"s":"β-Ga₂O₃","f":2.9,"P":1.47e-7},{"s":"β-Ga₂O₃","f":2.95,"P":1.43e-7},
{"s":"β-Ga₂O₃","f":3.0,"P":1.475e-7},{"s":"β-Ga₂O₃","f":3.05,"P":1.435e-7},
{"s":"β-Ga₂O₃","f":3.1,"P":1.455e-7},{"s":"β-Ga₂O₃","f":3.15,"P":1.415e-7},
{"s":"β-Ga₂O₃","f":3.2,"P":1.46e-7},{"s":"β-Ga₂O₃","f":3.25,"P":1.41e-7},
{"s":"β-Ga₂O₃","f":3.3,"P":1.46e-7},{"s":"β-Ga₂O₃","f":3.35,"P":1.42e-7},
{"s":"β-Ga₂O₃","f":3.4,"P":1.49e-7},{"s":"β-Ga₂O₃","f":3.45,"P":1.45e-7},
{"s":"β-Ga₂O₃","f":3.5,"P":1.47e-7},{"s":"β-Ga₂O₃","f":3.55,"P":1.43e-7},
{"s":"β-Ga₂O₃","f":3.6,"P":1.475e-7},{"s":"β-Ga₂O₃","f":3.65,"P":1.435e-7},
{"s":"β-Ga₂O₃","f":3.7,"P":1.435e-7},{"s":"β-Ga₂O₃","f":3.75,"P":1.395e-7},
{"s":"β-Ga₂O₃","f":3.8,"P":1.43e-7},{"s":"β-Ga₂O₃","f":3.85,"P":1.38e-7},
{"s":"β-Ga₂O₃","f":3.9,"P":1.41e-7},{"s":"β-Ga₂O₃","f":3.95,"P":1.37e-7},
{"s":"β-Ga₂O₃","f":4.0,"P":1.41e-7},{"s":"β-Ga₂O₃","f":4.05,"P":1.37e-7},
{"s":"β-Ga₂O₃","f":4.1,"P":1.38e-7},{"s":"β-Ga₂O₃","f":4.15,"P":1.34e-7},
{"s":"β-Ga₂O₃","f":4.2,"P":1.385e-7},{"s":"β-Ga₂O₃","f":4.25,"P":1.345e-7},
{"s":"β-Ga₂O₃","f":4.3,"P":1.365e-7},{"s":"β-Ga₂O₃","f":4.35,"P":1.325e-7},
{"s":"β-Ga₂O₃","f":4.4,"P":1.38e-7},{"s":"β-Ga₂O₃","f":4.45,"P":1.33e-7},
{"s":"β-Ga₂O₃","f":4.5,"P":1.35e-7},{"s":"β-Ga₂O₃","f":4.55,"P":1.31e-7},
{"s":"β-Ga₂O₃","f":4.6,"P":1.34e-7},{"s":"β-Ga₂O₃","f":4.65,"P":1.30e-7},
{"s":"β-Ga₂O₃","f":4.7,"P":1.31e-7},{"s":"β-Ga₂O₃","f":4.75,"P":1.27e-7},
{"s":"β-Ga₂O₃","f":4.8,"P":1.315e-7},{"s":"β-Ga₂O₃","f":4.85,"P":1.275e-7},
{"s":"β-Ga₂O₃","f":4.9,"P":1.295e-7},{"s":"β-Ga₂O₃","f":4.95,"P":1.255e-7},
{"s":"β-Ga₂O₃","f":5.0,"P":1.30e-7},{"s":"β-Ga₂O₃","f":5.05,"P":1.25e-7},
{"s":"β-Ga₂O₃","f":5.1,"P":1.27e-7},{"s":"β-Ga₂O₃","f":5.15,"P":1.23e-7},
{"s":"β-Ga₂O₃","f":5.2,"P":1.27e-7},{"s":"β-Ga₂O₃","f":5.25,"P":1.23e-7},
{"s":"β-Ga₂O₃","f":5.3,"P":1.23e-7},{"s":"β-Ga₂O₃","f":5.35,"P":1.19e-7},
{"s":"β-Ga₂O₃","f":5.4,"P":1.235e-7},{"s":"β-Ga₂O₃","f":5.45,"P":1.195e-7},
{"s":"β-Ga₂O₃","f":5.5,"P":1.185e-7},{"s":"β-Ga₂O₃","f":5.55,"P":1.145e-7},
{"s":"β-Ga₂O₃","f":5.6,"P":1.17e-7},{"s":"β-Ga₂O₃","f":5.65,"P":1.12e-7},
{"s":"β-Ga₂O₃","f":5.7,"P":1.17e-7},{"s":"β-Ga₂O₃","f":5.75,"P":1.13e-7},
{"s":"β-Ga₂O₃","f":5.8,"P":1.20e-7},{"s":"β-Ga₂O₃","f":5.85,"P":1.16e-7},
{"s":"β-Ga₂O₃","f":5.9,"P":1.21e-7},{"s":"β-Ga₂O₃","f":5.95,"P":1.17e-7},
{"s":"β-Ga₂O₃","f":6.0,"P":1.245e-7},{"s":"β-Ga₂O₃","f":6.05,"P":1.205e-7},
{"s":"β-Ga₂O₃","f":6.1,"P":1.225e-7},{"s":"β-Ga₂O₃","f":6.15,"P":1.185e-7},
{"s":"β-Ga₂O₃","f":6.2,"P":1.23e-7},{"s":"β-Ga₂O₃","f":6.25,"P":1.18e-7},
{"s":"β-Ga₂O₃","f":6.3,"P":1.19e-7},{"s":"β-Ga₂O₃","f":6.35,"P":1.15e-7},
{"s":"β-Ga₂O₃","f":6.4,"P":1.18e-7},{"s":"β-Ga₂O₃","f":6.45,"P":1.14e-7},
{"s":"β-Ga₂O₃","f":6.5,"P":1.13e-7},{"s":"β-Ga₂O₃","f":6.55,"P":1.09e-7},
{"s":"β-Ga₂O₃","f":6.6,"P":1.125e-7},{"s":"β-Ga₂O₃","f":6.65,"P":1.085e-7},
{"s":"β-Ga₂O₃","f":6.7,"P":1.095e-7},{"s":"β-Ga₂O₃","f":6.75,"P":1.055e-7},
{"s":"β-Ga₂O₃","f":6.8,"P":1.10e-7},{"s":"β-Ga₂O₃","f":6.85,"P":1.05e-7},
{"s":"β-Ga₂O₃","f":6.9,"P":1.08e-7},{"s":"β-Ga₂O₃","f":6.95,"P":1.04e-7},
{"s":"β-Ga₂O₃","f":7.0,"P":1.09e-7},{"s":"β-Ga₂O₃","f":7.05,"P":1.05e-7},
{"s":"β-Ga₂O₃","f":7.1,"P":1.10e-7},{"s":"β-Ga₂O₃","f":7.15,"P":1.07e-7},
{"s":"β-Ga₂O₃","f":7.2,"P":1.145e-7},{"s":"β-Ga₂O₃","f":7.25,"P":1.105e-7},
{"s":"β-Ga₂O₃","f":7.3,"P":1.165e-7},{"s":"β-Ga₂O₃","f":7.35,"P":1.125e-7},
{"s":"β-Ga₂O₃","f":7.4,"P":1.21e-7},{"s":"β-Ga₂O₃","f":7.45,"P":1.16e-7},
{"s":"β-Ga₂O₃","f":7.5,"P":1.23e-7},{"s":"β-Ga₂O₃","f":7.55,"P":1.19e-7},
{"s":"β-Ga₂O₃","f":7.6,"P":1.26e-7},{"s":"β-Ga₂O₃","f":7.65,"P":1.22e-7},
{"s":"β-Ga₂O₃","f":7.7,"P":1.25e-7},{"s":"β-Ga₂O₃","f":7.75,"P":1.21e-7},
{"s":"β-Ga₂O₃","f":7.8,"P":1.265e-7},{"s":"β-Ga₂O₃","f":7.85,"P":1.225e-7},
{"s":"β-Ga₂O₃","f":7.9,"P":1.265e-7},{"s":"β-Ga₂O₃","f":7.95,"P":1.225e-7},
{"s":"β-Ga₂O₃","f":8.0,"P":1.29e-7},{"s":"β-Ga₂O₃","f":8.05,"P":1.24e-7},
{"s":"β-Ga₂O₃","f":8.1,"P":1.29e-7},{"s":"β-Ga₂O₃","f":8.15,"P":1.25e-7},
{"s":"β-Ga₂O₃","f":8.2,"P":1.31e-7},{"s":"β-Ga₂O₃","f":8.25,"P":1.27e-7},
{"s":"β-Ga₂O₃","f":8.3,"P":1.29e-7},{"s":"β-Ga₂O₃","f":8.35,"P":1.25e-7},
{"s":"β-Ga₂O₃","f":8.4,"P":1.305e-7},{"s":"β-Ga₂O₃","f":8.45,"P":1.265e-7},
{"s":"β-Ga₂O₃","f":8.5,"P":1.305e-7},{"s":"β-Ga₂O₃","f":8.55,"P":1.265e-7},
{"s":"β-Ga₂O₃","f":8.6,"P":1.33e-7},{"s":"β-Ga₂O₃","f":8.65,"P":1.28e-7},
{"s":"β-Ga₂O₃","f":8.7,"P":1.33e-7},{"s":"β-Ga₂O₃","f":8.75,"P":1.29e-7},
{"s":"β-Ga₂O₃","f":8.8,"P":1.35e-7},{"s":"β-Ga₂O₃","f":8.85,"P":1.31e-7},
{"s":"β-Ga₂O₃","f":8.9,"P":1.32e-7},{"s":"β-Ga₂O₃","f":8.95,"P":1.28e-7},
{"s":"β-Ga₂O₃","f":9.0,"P":1.325e-7},{"s":"β-Ga₂O₃","f":9.05,"P":1.285e-7},
{"s":"β-Ga₂O₃","f":9.1,"P":1.295e-7},{"s":"β-Ga₂O₃","f":9.15,"P":1.255e-7},
{"s":"β-Ga₂O₃","f":9.2,"P":1.30e-7},{"s":"β-Ga₂O₃","f":9.25,"P":1.25e-7},
{"s":"β-Ga₂O₃","f":9.3,"P":1.28e-7},{"s":"β-Ga₂O₃","f":9.35,"P":1.24e-7},
{"s":"β-Ga₂O₃","f":9.4,"P":1.29e-7},{"s":"β-Ga₂O₃","f":9.45,"P":1.25e-7},
{"s":"β-Ga₂O₃","f":9.5,"P":1.28e-7},{"s":"β-Ga₂O₃","f":9.55,"P":1.24e-7},
{"s":"β-Ga₂O₃","f":9.6,"P":1.305e-7},{"s":"β-Ga₂O₃","f":9.65,"P":1.265e-7},
{"s":"β-Ga₂O₃","f":9.7,"P":1.285e-7},{"s":"β-Ga₂O₃","f":9.75,"P":1.245e-7},
{"s":"β-Ga₂O₃","f":9.8,"P":1.28e-7},{"s":"β-Ga₂O₃","f":9.85,"P":1.23e-7},
{"s":"β-Ga₂O₃","f":9.9,"P":1.23e-7},{"s":"β-Ga₂O₃","f":9.95,"P":1.19e-7},
{"s":"β-Ga₂O₃","f":10.0,"P":1.21e-7},{"s":"β-Ga₂O₃","f":10.05,"P":1.17e-7},
{"s":"β-Ga₂O₃","f":10.1,"P":1.17e-7},{"s":"β-Ga₂O₃","f":10.15,"P":1.13e-7},
{"s":"β-Ga₂O₃","f":10.2,"P":1.175e-7},{"s":"β-Ga₂O₃","f":10.25,"P":1.135e-7},
{"s":"β-Ga₂O₃","f":10.3,"P":1.175e-7},{"s":"β-Ga₂O₃","f":10.35,"P":1.135e-7},
{"s":"β-Ga₂O₃","f":10.4,"P":1.20e-7},{"s":"β-Ga₂O₃","f":10.45,"P":1.15e-7},
{"s":"β-Ga₂O₃","f":10.5,"P":1.20e-7},{"s":"β-Ga₂O₃","f":10.55,"P":1.16e-7},
{"s":"β-Ga₂O₃","f":10.6,"P":1.21e-7},{"s":"β-Ga₂O₃","f":10.65,"P":1.17e-7},
{"s":"β-Ga₂O₃","f":10.7,"P":1.17e-7},{"s":"β-Ga₂O₃","f":10.75,"P":1.13e-7},
{"s":"β-Ga₂O₃","f":10.8,"P":1.175e-7},{"s":"β-Ga₂O₃","f":10.85,"P":1.135e-7},
{"s":"β-Ga₂O₃","f":10.9,"P":1.165e-7},{"s":"β-Ga₂O₃","f":10.95,"P":1.125e-7},
{"s":"β-Ga₂O₃","f":11.0,"P":1.19e-7},{"s":"β-Ga₂O₃","f":11.05,"P":1.14e-7},
{"s":"β-Ga₂O₃","f":11.1,"P":1.21e-7},{"s":"β-Ga₂O₃","f":11.15,"P":1.17e-7},
{"s":"β-Ga₂O₃","f":11.2,"P":1.25e-7},{"s":"β-Ga₂O₃","f":11.25,"P":1.21e-7},
{"s":"β-Ga₂O₃","f":11.3,"P":1.24e-7},{"s":"β-Ga₂O₃","f":11.35,"P":1.20e-7},
{"s":"β-Ga₂O₃","f":11.4,"P":1.265e-7},{"s":"β-Ga₂O₃","f":11.45,"P":1.225e-7},
{"s":"β-Ga₂O₃","f":11.5,"P":1.255e-7},{"s":"β-Ga₂O₃","f":11.55,"P":1.215e-7},
{"s":"β-Ga₂O₃","f":11.6,"P":1.27e-7},{"s":"β-Ga₂O₃","f":11.65,"P":1.22e-7},
{"s":"β-Ga₂O₃","f":11.7,"P":1.27e-7},{"s":"β-Ga₂O₃","f":11.75,"P":1.23e-7},
{"s":"β-Ga₂O₃","f":11.8,"P":1.29e-7},{"s":"β-Ga₂O₃","f":11.85,"P":1.25e-7},
{"s":"β-Ga₂O₃","f":11.9,"P":1.29e-7},{"s":"β-Ga₂O₃","f":11.95,"P":1.25e-7},
{"s":"β-Ga₂O₃","f":12.0,"P":1.325e-7},{"s":"β-Ga₂O₃","f":12.05,"P":1.285e-7},
{"s":"β-Ga₂O₃","f":12.1,"P":1.335e-7},{"s":"β-Ga₂O₃","f":12.15,"P":1.295e-7},
{"s":"β-Ga₂O₃","f":12.2,"P":1.36e-7},{"s":"β-Ga₂O₃","f":12.25,"P":1.31e-7},
{"s":"β-Ga₂O₃","f":12.3,"P":1.34e-7},{"s":"β-Ga₂O₃","f":12.35,"P":1.30e-7},
{"s":"β-Ga₂O₃","f":12.4,"P":1.33e-7},{"s":"β-Ga₂O₃","f":12.45,"P":1.29e-7},
{"s":"β-Ga₂O₃","f":12.5,"P":1.28e-7},{"s":"β-Ga₂O₃","f":12.55,"P":1.24e-7},
{"s":"β-Ga₂O₃","f":12.6,"P":1.275e-7},{"s":"β-Ga₂O₃","f":12.65,"P":1.235e-7},
{"s":"β-Ga₂O₃","f":12.7,"P":1.275e-7},{"s":"β-Ga₂O₃","f":12.75,"P":1.235e-7},
{"s":"β-Ga₂O₃","f":12.8,"P":1.30e-7},{"s":"β-Ga₂O₃","f":12.85,"P":1.25e-7},
{"s":"β-Ga₂O₃","f":12.9,"P":1.30e-7},{"s":"β-Ga₂O₃","f":12.95,"P":1.26e-7},
{"s":"β-Ga₂O₃","f":13.0,"P":1.32e-7},{"s":"β-Ga₂O₃","f":13.05,"P":1.28e-7},
{"s":"β-Ga₂O₃","f":13.1,"P":1.30e-7},{"s":"β-Ga₂O₃","f":13.15,"P":1.26e-7},
{"s":"β-Ga₂O₃","f":13.2,"P":1.325e-7},{"s":"β-Ga₂O₃","f":13.25,"P":1.285e-7},
{"s":"β-Ga₂O₃","f":13.3,"P":1.325e-7},{"s":"β-Ga₂O₃","f":13.35,"P":1.285e-7},
{"s":"β-Ga₂O₃","f":13.4,"P":1.36e-7},{"s":"β-Ga₂O₃","f":13.45,"P":1.31e-7},
{"s":"β-Ga₂O₃","f":13.5,"P":1.37e-7},{"s":"β-Ga₂O₃","f":13.55,"P":1.33e-7},
{"s":"β-Ga₂O₃","f":13.6,"P":1.40e-7},{"s":"β-Ga₂O₃","f":13.65,"P":1.36e-7},
{"s":"β-Ga₂O₃","f":13.7,"P":1.39e-7},{"s":"β-Ga₂O₃","f":13.75,"P":1.35e-7},
{"s":"β-Ga₂O₃","f":13.8,"P":1.405e-7},{"s":"β-Ga₂O₃","f":13.85,"P":1.365e-7},
{"s":"β-Ga₂O₃","f":13.9,"P":1.365e-7},{"s":"β-Ga₂O₃","f":13.95,"P":1.325e-7},
{"s":"β-Ga₂O₃","f":14.0,"P":1.33e-7},{"s":"β-Ga₂O₃","f":14.05,"P":1.28e-7},
{"s":"β-Ga₂O₃","f":14.1,"P":1.27e-7},{"s":"β-Ga₂O₃","f":14.15,"P":1.23e-7},
{"s":"β-Ga₂O₃","f":14.2,"P":1.24e-7},{"s":"β-Ga₂O₃","f":14.25,"P":1.20e-7},
{"s":"β-Ga₂O₃","f":14.3,"P":1.22e-7},{"s":"β-Ga₂O₃","f":14.35,"P":1.18e-7},
{"s":"β-Ga₂O₃","f":14.4,"P":1.245e-7},{"s":"β-Ga₂O₃","f":14.45,"P":1.205e-7},
{"s":"β-Ga₂O₃","f":14.5,"P":1.245e-7},{"s":"β-Ga₂O₃","f":14.55,"P":1.205e-7},
{"s":"β-Ga₂O₃","f":14.6,"P":1.27e-7},{"s":"β-Ga₂O₃","f":14.65,"P":1.22e-7},
{"s":"β-Ga₂O₃","f":14.7,"P":1.26e-7},{"s":"β-Ga₂O₃","f":14.75,"P":1.22e-7},
{"s":"β-Ga₂O₃","f":14.8,"P":1.26e-7},{"s":"β-Ga₂O₃","f":14.85,"P":1.22e-7},
{"s":"β-Ga₂O₃","f":14.9,"P":1.21e-7},{"s":"β-Ga₂O₃","f":14.95,"P":1.17e-7},
{"s":"β-Ga₂O₃","f":15.0,"P":1.185e-7},{"s":"β-Ga₂O₃","f":15.05,"P":1.145e-7},
{"s":"β-Ga₂O₃","f":15.1,"P":1.155e-7},{"s":"β-Ga₂O₃","f":15.15,"P":1.115e-7},
{"s":"β-Ga₂O₃","f":15.2,"P":1.17e-7},{"s":"β-Ga₂O₃","f":15.25,"P":1.12e-7},
{"s":"β-Ga₂O₃","f":15.3,"P":1.18e-7},{"s":"β-Ga₂O₃","f":15.35,"P":1.14e-7},
{"s":"β-Ga₂O₃","f":15.4,"P":1.20e-7},{"s":"β-Ga₂O₃","f":15.45,"P":1.16e-7},
{"s":"β-Ga₂O₃","f":15.5,"P":1.17e-7},{"s":"β-Ga₂O₃","f":15.55,"P":1.13e-7},
{"s":"β-Ga₂O₃","f":15.6,"P":1.175e-7},{"s":"β-Ga₂O₃","f":15.65,"P":1.135e-7},
{"s":"β-Ga₂O₃","f":15.7,"P":1.155e-7},{"s":"β-Ga₂O₃","f":15.75,"P":1.115e-7},
{"s":"β-Ga₂O₃","f":15.8,"P":1.17e-7},{"s":"β-Ga₂O₃","f":15.85,"P":1.12e-7},
{"s":"β-Ga₂O₃","f":15.9,"P":1.15e-7},{"s":"β-Ga₂O₃","f":15.95,"P":1.11e-7},
{"s":"β-Ga₂O₃","f":16.0,"P":1.16e-7},{"s":"β-Ga₂O₃","f":16.05,"P":1.12e-7},
{"s":"β-Ga₂O₃","f":16.1,"P":1.13e-7},{"s":"β-Ga₂O₃","f":16.15,"P":1.09e-7},
{"s":"β-Ga₂O₃","f":16.2,"P":1.135e-7},{"s":"β-Ga₂O₃","f":16.25,"P":1.095e-7},
{"s":"β-Ga₂O₃","f":16.3,"P":1.115e-7},{"s":"β-Ga₂O₃","f":16.35,"P":1.075e-7},
{"s":"β-Ga₂O₃","f":16.4,"P":1.11e-7},{"s":"β-Ga₂O₃","f":16.45,"P":1.06e-7},
{"s":"β-Ga₂O₃","f":16.5,"P":1.08e-7},{"s":"β-Ga₂O₃","f":16.55,"P":1.04e-7},
{"s":"β-Ga₂O₃","f":16.6,"P":1.07e-7},{"s":"β-Ga₂O₃","f":16.65,"P":1.03e-7},
{"s":"β-Ga₂O₃","f":16.7,"P":1.05e-7},{"s":"β-Ga₂O₃","f":16.75,"P":1.01e-7},
{"s":"β-Ga₂O₃","f":16.8,"P":1.065e-7},{"s":"β-Ga₂O₃","f":16.85,"P":1.025e-7},
{"s":"β-Ga₂O₃","f":16.9,"P":1.055e-7},{"s":"β-Ga₂O₃","f":16.95,"P":1.015e-7},
{"s":"β-Ga₂O₃","f":17.0,"P":1.08e-7},{"s":"β-Ga₂O₃","f":17.05,"P":1.03e-7},
{"s":"β-Ga₂O₃","f":17.1,"P":1.08e-7},{"s":"β-Ga₂O₃","f":17.15,"P":1.04e-7},
{"s":"β-Ga₂O₃","f":17.2,"P":1.09e-7},{"s":"β-Ga₂O₃","f":17.25,"P":1.05e-7},
{"s":"β-Ga₂O₃","f":17.3,"P":1.04e-7},{"s":"β-Ga₂O₃","f":17.35,"P":1.00e-7},
{"s":"β-Ga₂O₃","f":17.4,"P":1.015e-7},{"s":"β-Ga₂O₃","f":17.45,"P":0.975e-7},
{"s":"β-Ga₂O₃","f":17.5,"P":0.965e-7},{"s":"β-Ga₂O₃","f":17.55,"P":0.925e-7},
{"s":"β-Ga₂O₃","f":17.6,"P":0.95e-7},{"s":"β-Ga₂O₃","f":17.65,"P":0.90e-7},
{"s":"β-Ga₂O₃","f":17.7,"P":0.91e-7},{"s":"β-Ga₂O₃","f":17.75,"P":0.87e-7},
{"s":"β-Ga₂O₃","f":17.8,"P":0.90e-7},{"s":"β-Ga₂O₃","f":17.85,"P":0.86e-7},
{"s":"β-Ga₂O₃","f":17.9,"P":0.87e-7},{"s":"β-Ga₂O₃","f":17.95,"P":0.83e-7},
{"s":"β-Ga₂O₃","f":18.0,"P":0.875e-7},{"s":"β-Ga₂O₃","f":18.05,"P":0.835e-7},
{"s":"β-Ga₂O₃","f":18.1,"P":0.875e-7},{"s":"β-Ga₂O₃","f":18.15,"P":0.835e-7},
{"s":"β-Ga₂O₃","f":18.2,"P":0.90e-7},{"s":"β-Ga₂O₃","f":18.25,"P":0.85e-7},
{"s":"β-Ga₂O₃","f":18.3,"P":0.87e-7},{"s":"β-Ga₂O₃","f":18.35,"P":0.83e-7},
{"s":"β-Ga₂O₃","f":18.4,"P":0.85e-7},{"s":"β-Ga₂O₃","f":18.45,"P":0.81e-7},
{"s":"β-Ga₂O₃","f":18.5,"P":0.80e-7},{"s":"β-Ga₂O₃","f":18.55,"P":0.76e-7},
{"s":"β-Ga₂O₃","f":18.6,"P":0.785e-7},{"s":"β-Ga₂O₃","f":18.65,"P":0.745e-7},
{"s":"β-Ga₂O₃","f":18.7,"P":0.755e-7},{"s":"β-Ga₂O₃","f":18.75,"P":0.715e-7},
{"s":"β-Ga₂O₃","f":18.8,"P":0.75e-7},{"s":"β-Ga₂O₃","f":18.85,"P":0.70e-7},
{"s":"β-Ga₂O₃","f":18.9,"P":0.73e-7},{"s":"β-Ga₂O₃","f":18.95,"P":0.69e-7},
{"s":"β-Ga₂O₃","f":19.0,"P":0.73e-7},{"s":"β-Ga₂O₃","f":19.05,"P":0.69e-7},
{"s":"β-Ga₂O₃","f":19.1,"P":0.69e-7},{"s":"β-Ga₂O₃","f":19.15,"P":0.65e-7},
{"s":"β-Ga₂O₃","f":19.2,"P":0.695e-7},{"s":"β-Ga₂O₃","f":19.25,"P":0.655e-7},
{"s":"β-Ga₂O₃","f":19.3,"P":0.675e-7},{"s":"β-Ga₂O₃","f":19.35,"P":0.635e-7},
{"s":"β-Ga₂O₃","f":19.4,"P":0.68e-7},{"s":"β-Ga₂O₃","f":19.45,"P":0.63e-7},
{"s":"β-Ga₂O₃","f":19.5,"P":0.67e-7},{"s":"β-Ga₂O₃","f":19.55,"P":0.63e-7},
{"s":"β-Ga₂O₃","f":19.6,"P":0.67e-7},{"s":"β-Ga₂O₃","f":19.65,"P":0.63e-7},
{"s":"β-Ga₂O₃","f":19.7,"P":0.64e-7},{"s":"β-Ga₂O₃","f":19.75,"P":0.60e-7},
{"s":"β-Ga₂O₃","f":19.8,"P":0.655e-7},{"s":"β-Ga₂O₃","f":19.85,"P":0.615e-7},
{"s":"β-Ga₂O₃","f":19.9,"P":0.635e-7},{"s":"β-Ga₂O₃","f":19.95,"P":0.595e-7},
{"s":"β-Ga₂O₃","f":19.97,"P":0.64e-7},{"s":"β-Ga₂O₃","f":20.0,"P":0.60e-7},
{"s":"β-Ga₂O₃","f":1.125,"P":1.80e-7},{"s":"β-Ga₂O₃","f":1.225,"P":1.70e-7},{"s":"β-Ga₂O₃","f":1.325,"P":1.76e-7},{"s":"β-Ga₂O₃","f":1.425,"P":1.66e-7},
{"s":"β-Ga₂O₃","f":1.525,"P":1.71e-7},{"s":"β-Ga₂O₃","f":1.625,"P":1.59e-7},{"s":"β-Ga₂O₃","f":1.725,"P":1.63e-7},{"s":"β-Ga₂O₃","f":1.825,"P":1.51e-7},
{"s":"β-Ga₂O₃","f":1.925,"P":1.59e-7},{"s":"β-Ga₂O₃","f":2.025,"P":1.51e-7},{"s":"β-Ga₂O₃","f":2.125,"P":1.59e-7},{"s":"β-Ga₂O₃","f":2.225,"P":1.52e-7},
{"s":"β-Ga₂O₃","f":2.325,"P":1.60e-7},{"s":"β-Ga₂O₃","f":2.425,"P":1.53e-7},{"s":"β-Ga₂O₃","f":2.525,"P":1.59e-7},{"s":"β-Ga₂O₃","f":2.625,"P":1.48e-7},
{"s":"β-Ga₂O₃","f":2.725,"P":1.54e-7},{"s":"β-Ga₂O₃","f":2.825,"P":1.44e-7},{"s":"β-Ga₂O₃","f":2.925,"P":1.50e-7},{"s":"β-Ga₂O₃","f":3.025,"P":1.41e-7},
{"s":"β-Ga₂O₃","f":3.125,"P":1.48e-7},{"s":"β-Ga₂O₃","f":3.225,"P":1.39e-7},{"s":"β-Ga₂O₃","f":3.325,"P":1.48e-7},{"s":"β-Ga₂O₃","f":3.425,"P":1.42e-7},
{"s":"β-Ga₂O₃","f":3.525,"P":1.50e-7},{"s":"β-Ga₂O₃","f":3.625,"P":1.41e-7},{"s":"β-Ga₂O₃","f":3.725,"P":1.46e-7},{"s":"β-Ga₂O₃","f":3.825,"P":1.36e-7},
{"s":"β-Ga₂O₃","f":3.925,"P":1.43e-7},{"s":"β-Ga₂O₃","f":4.025,"P":1.34e-7},{"s":"β-Ga₂O₃","f":4.125,"P":1.41e-7},{"s":"β-Ga₂O₃","f":4.225,"P":1.32e-7},
{"s":"β-Ga₂O₃","f":4.325,"P":1.39e-7},{"s":"β-Ga₂O₃","f":4.425,"P":1.31e-7},{"s":"β-Ga₂O₃","f":4.525,"P":1.37e-7},{"s":"β-Ga₂O₃","f":4.625,"P":1.27e-7},
{"s":"β-Ga₂O₃","f":4.725,"P":1.34e-7},{"s":"β-Ga₂O₃","f":4.825,"P":1.25e-7},{"s":"β-Ga₂O₃","f":4.925,"P":1.32e-7},{"s":"β-Ga₂O₃","f":5.025,"P":1.23e-7},
{"s":"β-Ga₂O₃","f":5.125,"P":1.29e-7},{"s":"β-Ga₂O₃","f":5.225,"P":1.20e-7},{"s":"β-Ga₂O₃","f":5.325,"P":1.26e-7},{"s":"β-Ga₂O₃","f":5.425,"P":1.17e-7},
{"s":"β-Ga₂O₃","f":5.525,"P":1.21e-7},{"s":"β-Ga₂O₃","f":5.625,"P":1.10e-7},{"s":"β-Ga₂O₃","f":5.725,"P":1.19e-7},{"s":"β-Ga₂O₃","f":5.825,"P":1.13e-7},
{"s":"β-Ga₂O₃","f":5.925,"P":1.24e-7},{"s":"β-Ga₂O₃","f":6.025,"P":1.18e-7},{"s":"β-Ga₂O₃","f":6.125,"P":1.25e-7},{"s":"β-Ga₂O₃","f":6.225,"P":1.16e-7},
{"s":"β-Ga₂O₃","f":6.325,"P":1.21e-7},{"s":"β-Ga₂O₃","f":6.425,"P":1.11e-7},{"s":"β-Ga₂O₃","f":6.525,"P":1.16e-7},{"s":"β-Ga₂O₃","f":6.625,"P":1.06e-7},
{"s":"β-Ga₂O₃","f":6.725,"P":1.12e-7},{"s":"β-Ga₂O₃","f":6.825,"P":1.03e-7},{"s":"β-Ga₂O₃","f":6.925,"P":1.10e-7},{"s":"β-Ga₂O₃","f":7.025,"P":1.02e-7},
{"s":"β-Ga₂O₃","f":7.125,"P":1.13e-7},{"s":"β-Ga₂O₃","f":7.225,"P":1.08e-7},{"s":"β-Ga₂O₃","f":7.325,"P":1.19e-7},{"s":"β-Ga₂O₃","f":7.425,"P":1.14e-7},
{"s":"β-Ga₂O₃","f":7.525,"P":1.25e-7},{"s":"β-Ga₂O₃","f":7.625,"P":1.19e-7},{"s":"β-Ga₂O₃","f":7.725,"P":1.28e-7},{"s":"β-Ga₂O₃","f":7.825,"P":1.20e-7},
{"s":"β-Ga₂O₃","f":7.925,"P":1.29e-7},{"s":"β-Ga₂O₃","f":8.025,"P":1.22e-7},{"s":"β-Ga₂O₃","f":8.125,"P":1.31e-7},{"s":"β-Ga₂O₃","f":8.225,"P":1.24e-7},
{"s":"β-Ga₂O₃","f":8.325,"P":1.32e-7},{"s":"β-Ga₂O₃","f":8.425,"P":1.24e-7},{"s":"β-Ga₂O₃","f":8.525,"P":1.33e-7},{"s":"β-Ga₂O₃","f":8.625,"P":1.26e-7},
{"s":"β-Ga₂O₃","f":8.725,"P":1.35e-7},{"s":"β-Ga₂O₃","f":8.825,"P":1.28e-7},{"s":"β-Ga₂O₃","f":8.925,"P":1.35e-7},{"s":"β-Ga₂O₃","f":9.025,"P":1.26e-7},
{"s":"β-Ga₂O₃","f":9.125,"P":1.32e-7},{"s":"β-Ga₂O₃","f":9.225,"P":1.23e-7},{"s":"β-Ga₂O₃","f":9.325,"P":1.30e-7},{"s":"β-Ga₂O₃","f":9.425,"P":1.22e-7},
{"s":"β-Ga₂O₃","f":9.525,"P":1.31e-7},{"s":"β-Ga₂O₃","f":9.625,"P":1.24e-7},{"s":"β-Ga₂O₃","f":9.725,"P":1.31e-7},{"s":"β-Ga₂O₃","f":9.825,"P":1.21e-7},
{"s":"β-Ga₂O₃","f":9.925,"P":1.25e-7},{"s":"β-Ga₂O₃","f":10.025,"P":1.14e-7},{"s":"β-Ga₂O₃","f":10.125,"P":1.20e-7},{"s":"β-Ga₂O₃","f":10.225,"P":1.11e-7},
{"s":"β-Ga₂O₃","f":10.325,"P":1.20e-7},{"s":"β-Ga₂O₃","f":10.425,"P":1.13e-7},{"s":"β-Ga₂O₃","f":10.525,"P":1.22e-7},{"s":"β-Ga₂O₃","f":10.625,"P":1.14e-7},
{"s":"β-Ga₂O₃","f":10.725,"P":1.20e-7},{"s":"β-Ga₂O₃","f":10.825,"P":1.11e-7},{"s":"β-Ga₂O₃","f":10.925,"P":1.19e-7},{"s":"β-Ga₂O₃","f":11.025,"P":1.12e-7},
{"s":"β-Ga₂O₃","f":11.125,"P":1.23e-7},{"s":"β-Ga₂O₃","f":11.225,"P":1.18e-7},{"s":"β-Ga₂O₃","f":11.325,"P":1.27e-7},{"s":"β-Ga₂O₃","f":11.425,"P":1.20e-7},
{"s":"β-Ga₂O₃","f":11.525,"P":1.28e-7},{"s":"β-Ga₂O₃","f":11.625,"P":1.20e-7},{"s":"β-Ga₂O₃","f":11.725,"P":1.29e-7},{"s":"β-Ga₂O₃","f":11.825,"P":1.22e-7},
{"s":"β-Ga₂O₃","f":11.925,"P":1.32e-7},{"s":"β-Ga₂O₃","f":12.025,"P":1.26e-7},{"s":"β-Ga₂O₃","f":12.125,"P":1.36e-7},{"s":"β-Ga₂O₃","f":12.225,"P":1.29e-7},
{"s":"β-Ga₂O₃","f":12.325,"P":1.36e-7},{"s":"β-Ga₂O₃","f":12.425,"P":1.26e-7},{"s":"β-Ga₂O₃","f":12.525,"P":1.31e-7},{"s":"β-Ga₂O₃","f":12.625,"P":1.21e-7},
{"s":"β-Ga₂O₃","f":12.725,"P":1.30e-7},{"s":"β-Ga₂O₃","f":12.825,"P":1.23e-7},{"s":"β-Ga₂O₃","f":12.925,"P":1.32e-7},{"s":"β-Ga₂O₃","f":13.025,"P":1.25e-7},
{"s":"β-Ga₂O₃","f":13.125,"P":1.33e-7},{"s":"β-Ga₂O₃","f":13.225,"P":1.26e-7},{"s":"β-Ga₂O₃","f":13.325,"P":1.35e-7},{"s":"β-Ga₂O₃","f":13.425,"P":1.29e-7},
{"s":"β-Ga₂O₃","f":13.525,"P":1.39e-7},{"s":"β-Ga₂O₃","f":13.625,"P":1.33e-7},{"s":"β-Ga₂O₃","f":13.725,"P":1.42e-7},{"s":"β-Ga₂O₃","f":13.825,"P":1.34e-7},
{"s":"β-Ga₂O₃","f":13.925,"P":1.39e-7},{"s":"β-Ga₂O₃","f":14.025,"P":1.26e-7},{"s":"β-Ga₂O₃","f":14.125,"P":1.29e-7},{"s":"β-Ga₂O₃","f":14.225,"P":1.17e-7},
{"s":"β-Ga₂O₃","f":14.325,"P":1.25e-7},{"s":"β-Ga₂O₃","f":14.425,"P":1.18e-7},{"s":"β-Ga₂O₃","f":14.525,"P":1.27e-7},{"s":"β-Ga₂O₃","f":14.625,"P":1.20e-7},
{"s":"β-Ga₂O₃","f":14.725,"P":1.28e-7},{"s":"β-Ga₂O₃","f":14.825,"P":1.19e-7},{"s":"β-Ga₂O₃","f":14.925,"P":1.24e-7},{"s":"β-Ga₂O₃","f":15.025,"P":1.12e-7},
{"s":"β-Ga₂O₃","f":15.125,"P":1.18e-7},{"s":"β-Ga₂O₃","f":15.225,"P":1.10e-7},{"s":"β-Ga₂O₃","f":15.325,"P":1.20e-7},{"s":"β-Ga₂O₃","f":15.425,"P":1.13e-7},
{"s":"β-Ga₂O₃","f":15.525,"P":1.20e-7},{"s":"β-Ga₂O₃","f":15.625,"P":1.11e-7},{"s":"β-Ga₂O₃","f":15.725,"P":1.18e-7},{"s":"β-Ga₂O₃","f":15.825,"P":1.10e-7},
{"s":"β-Ga₂O₃","f":15.925,"P":1.17e-7},{"s":"β-Ga₂O₃","f":16.025,"P":1.09e-7},{"s":"β-Ga₂O₃","f":16.125,"P":1.16e-7},{"s":"β-Ga₂O₃","f":16.225,"P":1.07e-7},
{"s":"β-Ga₂O₃","f":16.325,"P":1.14e-7},{"s":"β-Ga₂O₃","f":16.425,"P":1.04e-7},{"s":"β-Ga₂O₃","f":16.525,"P":1.10e-7},{"s":"β-Ga₂O₃","f":16.625,"P":1.00e-7},
{"s":"β-Ga₂O₃","f":16.725,"P":1.08e-7},{"s":"β-Ga₂O₃","f":16.825,"P":1.00e-7},{"s":"β-Ga₂O₃","f":16.925,"P":1.08e-7},{"s":"β-Ga₂O₃","f":17.025,"P":1.01e-7},
{"s":"β-Ga₂O₃","f":17.125,"P":1.10e-7},{"s":"β-Ga₂O₃","f":17.225,"P":1.02e-7},{"s":"β-Ga₂O₃","f":17.325,"P":1.07e-7},{"s":"β-Ga₂O₃","f":17.425,"P":0.95e-7},
{"s":"β-Ga₂O₃","f":17.525,"P":0.99e-7},{"s":"β-Ga₂O₃","f":17.625,"P":0.88e-7},{"s":"β-Ga₂O₃","f":17.725,"P":0.93e-7},{"s":"β-Ga₂O₃","f":17.825,"P":0.83e-7},
{"s":"β-Ga₂O₃","f":17.925,"P":0.90e-7},{"s":"β-Ga₂O₃","f":18.025,"P":0.81e-7},{"s":"β-Ga₂O₃","f":18.125,"P":0.90e-7},{"s":"β-Ga₂O₃","f":18.225,"P":0.83e-7},
{"s":"β-Ga₂O₃","f":18.325,"P":0.89e-7},{"s":"β-Ga₂O₃","f":18.425,"P":0.78e-7},{"s":"β-Ga₂O₃","f":18.525,"P":0.83e-7},{"s":"β-Ga₂O₃","f":18.625,"P":0.72e-7},
{"s":"β-Ga₂O₃","f":18.725,"P":0.78e-7},{"s":"β-Ga₂O₃","f":18.825,"P":0.68e-7},{"s":"β-Ga₂O₃","f":18.925,"P":0.75e-7},{"s":"β-Ga₂O₃","f":19.025,"P":0.66e-7},
{"s":"β-Ga₂O₃","f":19.125,"P":0.72e-7},{"s":"β-Ga₂O₃","f":19.225,"P":0.63e-7},{"s":"β-Ga₂O₃","f":19.325,"P":0.70e-7},{"s":"β-Ga₂O₃","f":19.425,"P":0.61e-7},
{"s":"β-Ga₂O₃","f":19.525,"P":0.69e-7},{"s":"β-Ga₂O₃","f":19.625,"P":0.60e-7},{"s":"β-Ga₂O₃","f":19.725,"P":0.67e-7},{"s":"β-Ga₂O₃","f":19.825,"P":0.59e-7},
{"s":"β-Ga₂O₃","f":19.925,"P":0.66e-7},{"s":"β-Ga₂O₃","f":19.99,"P":0.58e-7}
]},
"layer": [
 {
  "mark": {"type": "point", "opacity": 0},
  "encoding": {
   "x": {"field": "f", "type": "quantitative", "scale": {"domain": [0, 20], "nice": false, "zero": false},
         "axis": {"orient": "bottom", "title": null, "labels": false, "domain": false, "tickSize": -4, "tickWidth": 1.5, "tickColor": "black",
                  "values": [0,0.4,0.8,1.2,1.6,2,2.4,2.8,3.2,3.6,4,4.4,4.8,5.2,5.6,6,6.4,6.8,7.2,7.6,8,8.4,8.8,9.2,9.6,10,10.4,10.8,11.2,11.6,12,12.4,12.8,13.2,13.6,14,14.4,14.8,15.2,15.6,16,16.4,16.8,17.2,17.6,18,18.4,18.8,19.2,19.6,20]}},
   "y": {"field": "P", "type": "quantitative", "scale": {"domain": [0, 2e-7], "nice": false},
         "axis": {"orient": "left", "title": null, "labels": false, "domain": false, "tickSize": -5, "tickWidth": 1.5, "tickColor": "black",
                  "values": [0,5e-9,1e-8,1.5e-8,2e-8,2.5e-8,3e-8,3.5e-8,4e-8,4.5e-8,5e-8,5.5e-8,6e-8,6.5e-8,7e-8,7.5e-8,8e-8,8.5e-8,9e-8,9.5e-8,1e-7,1.05e-7,1.1e-7,1.15e-7,1.2e-7,1.25e-7,1.3e-7,1.35e-7,1.4e-7,1.45e-7,1.5e-7,1.55e-7,1.6e-7,1.65e-7,1.7e-7,1.75e-7,1.8e-7,1.85e-7,1.9e-7,1.95e-7,2e-7]}}
  }
 },
 {
  "mark": {"type": "point", "filled": false, "strokeWidth": 1.1, "size": 42, "opacity": 1},
  "encoding": {
   "x": {"field": "f", "type": "quantitative",
         "axis": {"orient": "bottom", "title": "Phonon frequency (THz)", "values": [0,2,4,6,8,10,12,14,16,18,20], "format": "d",
                  "domain": true, "domainColor": "black", "domainWidth": 2, "tickSize": -8, "tickWidth": 1.5, "tickColor": "black",
                  "labelFontSize": 18, "labelPadding": 18, "titleFontSize": 19, "titlePadding": 7, "titleX": 289}},
   "y": {"field": "P", "type": "quantitative",
         "axis": {"orient": "left", "title": "Dimensionless scattering phase space volume Pʲ₃(q)", "values": [0,5e-8,1e-7,1.5e-7,2e-7],
                  "labelExpr": "datum.value == 0 ? '0.0' : (datum.value < 9e-8 ? format(datum.value*1e8, '.1f') + 'x10⁻⁸' : format(datum.value*1e7, '.1f') + 'x10⁻⁷')",
                  "domain": true, "domainColor": "black", "domainWidth": 2, "tickSize": -8, "tickWidth": 1.5, "tickColor": "black",
                  "labelFontSize": 15, "labelPadding": 12, "titleFontSize": 16.8, "titlePadding": 16}},
   "color": {"field": "s", "type": "nominal", "scale": {"domain": ["α-Ga₂O₃", "β-Ga₂O₃"], "range": ["#0000ff", "#ff0000"]},
             "legend": {"title": null, "orient": "none", "legendX": 213, "legendY": 20, "strokeColor": "#777777", "padding": 6,
                        "symbolOffset": 20, "labelOffset": 20, "labelFontSize": 19, "labelColor": "black",
                        "rowPadding": 9, "symbolSize": 28, "symbolStrokeWidth": 1.5, "fillColor": "white"}},
   "shape": {"field": "s", "type": "nominal", "scale": {"domain": ["α-Ga₂O₃", "β-Ga₂O₃"], "range": ["triangle-up", "circle"]}, "legend": null}
  }
 },
 {
  "data": {"values": [{"f": 18.07, "P": 1.86e-7, "t": "(a)"}]},
  "mark": {"type": "text", "fontSize": 37, "fontWeight": "bold", "baseline": "middle", "align": "center", "color": "black"},
  "encoding": {
   "x": {"field": "f", "type": "quantitative", "axis": null},
   "y": {"field": "P", "type": "quantitative", "axis": null},
   "text": {"field": "t"}
  }
 }
],
"resolve": {"axis": {"x": "independent", "y": "independent"}}
}
